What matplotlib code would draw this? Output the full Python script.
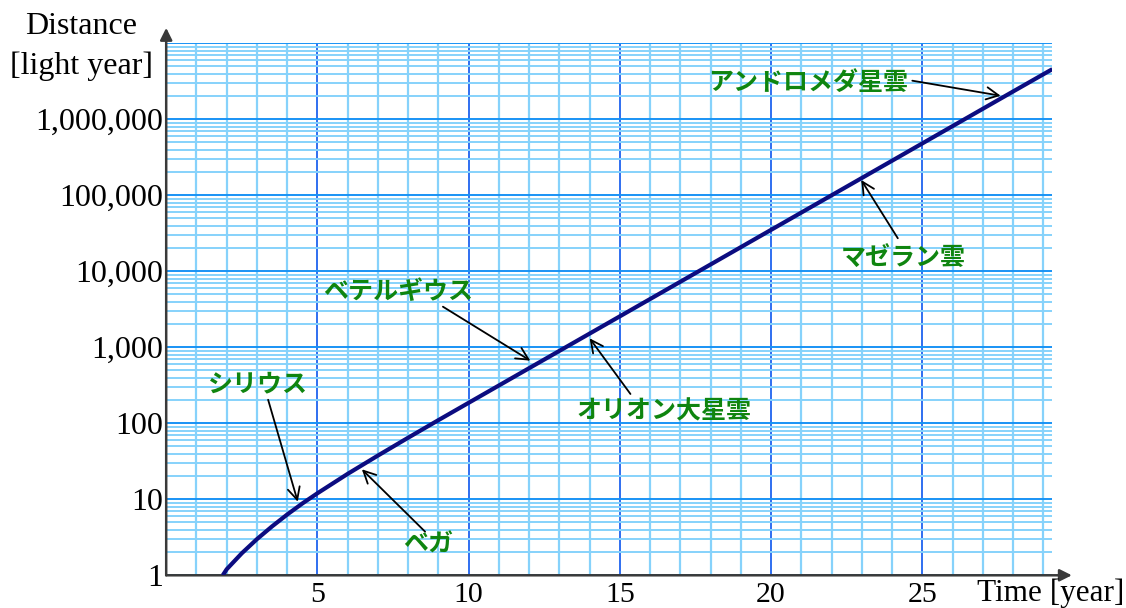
import numpy as np
import matplotlib.pyplot as plt
from matplotlib.ticker import FixedLocator, LogLocator, NullFormatter

# values
time_years = [1.87, 2.0, 2.5, 3.0, 3.5, 4.0, 4.5, 5.0, 6.0, 7.0, 8.0, 9.0,
              10.0, 12.0, 14.0, 16.0, 18.0, 20.0, 22.0, 24.0, 26.0, 28.0, 29.3]
distance_ly = [1.0, 1.2, 1.95, 2.99, 4.4, 6.3, 8.8, 12.0, 21.6, 37.6, 64.6, 110,
               186, 531, 1514, 4315, 12300, 35100, 100000, 285000, 813000, 2.32e6, 4.57e6]

x_ticks = [5, 10, 15, 20, 25]
y_ticks = [1, 10, 100, 1000, 10000, 100000, 1000000]
y_labels = ["1", "10", "100", "1,000", "10,000", "100,000", "1,000,000"]

# star name, label position (time, distance), arrow tail, arrow tip on the curve
stars = [
    ("シリウス", (3.04, 329), (3.37, 204), (4.35, 9.3)),
    ("ベガ", (8.66, 2.5), (8.56, 3.75), (6.47, 24.8)),
    ("ベテルギウス", (7.67, 5370), (9.15, 3420), (12.04, 667)),
    ("オリオン大星雲", (16.47, 145), (15.35, 243), (14.0, 1313)),
    ("マゼラン雲", (24.38, 14500), (24.19, 27200), (22.98, 159000)),
    ("アンドロメダ星雲", (21.22, 3.0e6), (24.67, 3.22e6), (27.59, 2.04e6)),
]

serif = "Liberation Serif"
jp = "Noto Sans CJK JP"

fig = plt.figure(figsize=(11.26, 6.08), dpi=100)
ax = fig.add_axes([0.1476, 0.0538, 0.7870, 0.8750])

ax.set_yscale("log")
ax.set_xlim(0, 29.3)
ax.set_ylim(1, 1e7)

ax.xaxis.set_major_locator(FixedLocator(x_ticks))
ax.xaxis.set_minor_locator(FixedLocator(np.arange(1, 30)))
ax.yaxis.set_major_locator(FixedLocator(y_ticks + [1e7]))
ax.yaxis.set_minor_locator(LogLocator(base=10, subs=np.arange(2, 10)))
ax.yaxis.set_minor_formatter(NullFormatter())
ax.set_xticklabels([str(t) for t in x_ticks], fontfamily=serif, fontsize=21.5)
ax.set_yticklabels(y_labels + [""], fontfamily=serif, fontsize=23)
ax.tick_params(which="both", length=0)
ax.tick_params(axis="y", pad=2)
ax.tick_params(axis="x", pad=5)

ax.grid(True, axis="x", which="minor", color="#86d2fb", linewidth=1.6)
ax.grid(True, axis="x", which="major", color="#2f6ff0", linewidth=1.4)
ax.grid(True, axis="y", which="minor", color="#86d2fb", linewidth=1.4)
ax.grid(True, axis="y", which="major", color="#1993f5", linewidth=1.4)
ax.set_axisbelow(True)

for side in ["top", "right", "left", "bottom"]:
    ax.spines[side].set_visible(False)

# axes with arrows
ax.annotate("", xy=(0, 1.029), xytext=(0, 0), xycoords="axes fraction",
            arrowprops=dict(arrowstyle="-|>", color="#3a3a3a", lw=1.8,
                            mutation_scale=18, shrinkA=0, shrinkB=0), annotation_clip=False)
ax.annotate("", xy=(1.022, 0), xytext=(0, 0), xycoords="axes fraction",
            arrowprops=dict(arrowstyle="-|>", color="#3a3a3a", lw=1.8,
                            mutation_scale=18, shrinkA=0, shrinkB=0), annotation_clip=False)

ax.plot(time_years, distance_ly, color="#0c0c80", linewidth=3.0,
        solid_capstyle="butt", solid_joinstyle="round", zorder=3)

for name, pos, tail, tip in stars:
    ax.annotate("", xy=tip, xytext=tail,
                arrowprops=dict(arrowstyle="->", color="black", lw=1.3,
                                mutation_scale=22, shrinkA=0, shrinkB=0), zorder=4)
    ax.text(pos[0], pos[1], name, fontfamily=jp, fontweight="bold", fontsize=18,
            color="#0f850f", ha="center", va="center", zorder=5)

fig.text(81 / 1126, 1 - 26 / 608, "Distance", fontfamily=serif, fontsize=23,
         ha="center", va="center")
fig.text(81 / 1126, 1 - 66 / 608, "[light year]", fontfamily=serif, fontsize=23,
         ha="center", va="center")
fig.text(977 / 1126, 1 - 593 / 608, "Time [year]", fontfamily=serif, fontsize=22.5,
         ha="left", va="center")

fig.savefig("out.png", dpi=100)
